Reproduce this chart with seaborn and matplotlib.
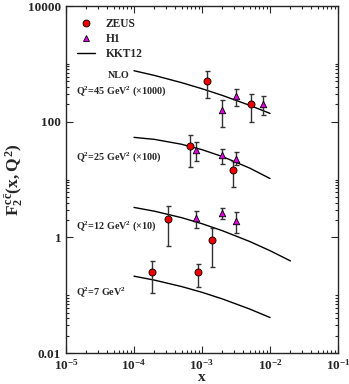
import numpy as np
import pandas as pd
import matplotlib
matplotlib.use("Agg")
import matplotlib.pyplot as plt
import seaborn as sns
from matplotlib.ticker import LogLocator, FixedLocator, NullFormatter, FuncFormatter
from matplotlib.lines import Line2D

# ---------------- data ----------------
zeus45_x = [1.18e-3, 5.3e-3]
zeus45_y = [504, 199]
zeus45_lo = [253, 100]
zeus45_hi = [760, 296]

h1_45_x = [2.0e-3, 3.2e-3, 8.0e-3]
h1_45_y = [159, 281, 201]
h1_45_lo = [81, 188, 128]
h1_45_hi = [237, 366, 277]

zeus25_x = [6.6e-4, 2.9e-3]
zeus25_y = [37.8, 14.4]
zeus25_lo = [16.6, 7.5]
zeus25_hi = [58, 21.1]

h1_25_x = [8.05e-4, 2.0e-3, 3.2e-3]
h1_25_y = [32.7, 26.1, 22.8]
h1_25_lo = [20.6, 18.5, 17.9]
h1_25_hi = [44.9, 33.2, 30.1]

zeus12_x = [3.16e-4, 1.38e-3]
zeus12_y = [2.09, 0.895]
zeus12_lo = [0.72, 0.31]
zeus12_hi = [3.47, 1.46]

h1_12_x = [8.05e-4, 2.0e-3, 3.2e-3]
h1_12_y = [2.15, 2.65, 1.91]
h1_12_lo = [1.46, 2.07, 1.17]
h1_12_hi = [2.8, 3.2, 2.7]

zeus7_x = [1.84e-4, 8.7e-4]
zeus7_y = [0.247, 0.247]
zeus7_lo = [0.111, 0.136]
zeus7_hi = [0.387, 0.352]

# KKT12 NLO curves
kkt_x = [1e-4, 2e-4, 5e-4, 1e-3, 2e-3, 5e-3, 1e-2]
kkt45_y = [760, 630, 473, 371, 284, 192, 139]
kkt25_y = [53.5, 49.4, 40.7, 32.8, 24.9, 15.8, 10.4]
kkt12_x = [1e-4, 2e-4, 5e-4, 1e-3, 2e-3, 5e-3, 1e-2, 2e-2]
kkt12_y = [3.29, 2.83, 2.19, 1.72, 1.30, 0.85, 0.588, 0.391]
kkt7_y = [0.213, 0.182, 0.141, 0.112, 0.086, 0.0577, 0.0411]

group_labels = ["Q$^2$=45 GeV$^2$ (\u00d71000)", "Q$^2$=25 GeV$^2$ (\u00d7100)",
                "Q$^2$=12 GeV$^2$ (\u00d710)", "Q$^2$=7 GeV$^2$"]

# ---------------- style ----------------
sns.set_style("ticks")
plt.rcParams['font.family'] = ['Liberation Serif', 'DejaVu Serif']
plt.rcParams['font.weight'] = 'bold'
plt.rcParams['mathtext.fontset'] = 'custom'
plt.rcParams['mathtext.rm'] = 'Liberation Serif:bold'
plt.rcParams['mathtext.it'] = 'Liberation Serif:bold'
plt.rcParams['mathtext.bf'] = 'Liberation Serif:bold'
plt.rcParams['axes.linewidth'] = 1.0

fig = plt.figure(figsize=(3.49, 3.84), dpi=100)
ax = fig.add_axes([66/349, 1-353/384, (338-66)/349, (353-6)/384])

curves = pd.concat([
    pd.DataFrame({"x": kkt_x, "y": kkt45_y, "g": "45"}),
    pd.DataFrame({"x": kkt_x, "y": kkt25_y, "g": "25"}),
    pd.DataFrame({"x": kkt12_x, "y": kkt12_y, "g": "12"}),
    pd.DataFrame({"x": kkt_x, "y": kkt7_y, "g": "7"}),
])
sns.lineplot(data=curves, x="x", y="y", units="g", estimator=None, color="black",
             lw=1.0, ax=ax, sort=True)

def draw_points(xs, ys, lo, hi, marker, color, ms):
    xs = np.array(xs); ys = np.array(ys)
    yerr = [ys - np.array(lo), np.array(hi) - ys]
    ax.errorbar(xs, ys, yerr=yerr, fmt='none', ecolor='#333333', elinewidth=1.0,
                capsize=1.8, capthick=1.0, zorder=3)
    sns.scatterplot(x=xs, y=ys, marker=marker, color=color, edgecolor='black',
                    linewidth=0.6, s=ms, ax=ax, zorder=4)

ZC = '#ee0000'
HC = '#e000e0'
for xs, ys, lo, hi in [(zeus45_x, zeus45_y, zeus45_lo, zeus45_hi),
                       (zeus25_x, zeus25_y, zeus25_lo, zeus25_hi),
                       (zeus12_x, zeus12_y, zeus12_lo, zeus12_hi),
                       (zeus7_x, zeus7_y, zeus7_lo, zeus7_hi)]:
    draw_points(xs, ys, lo, hi, 'o', ZC, 26)
for xs, ys, lo, hi in [(h1_45_x, h1_45_y, h1_45_lo, h1_45_hi),
                       (h1_25_x, h1_25_y, h1_25_lo, h1_25_hi),
                       (h1_12_x, h1_12_y, h1_12_lo, h1_12_hi)]:
    draw_points(xs, ys, lo, hi, '^', HC, 22)

ax.set_xscale('log')
ax.set_yscale('log')
ax.set_xlim(1e-5, 1e-1)
ax.set_ylim(1e-2, 1e4)

ax.xaxis.set_major_locator(LogLocator(base=10, numticks=10))
ax.xaxis.set_minor_locator(LogLocator(base=10, subs=np.arange(2, 10), numticks=20))
ax.xaxis.set_minor_formatter(NullFormatter())
ax.xaxis.set_major_formatter(FuncFormatter(lambda v, p: r"$10^{%d}$" % int(round(np.log10(v)))))
ymaj = [1e-2, 1, 1e2, 1e4]
ax.yaxis.set_major_locator(FixedLocator(ymaj))
ymin = [m * 10.0**k for k in (-2, 0, 2) for m in range(2, 11)]
ax.yaxis.set_minor_locator(FixedLocator(ymin))
ax.yaxis.set_minor_formatter(NullFormatter())
ax.yaxis.set_major_formatter(FuncFormatter(lambda v, p: {1e-2: "0.01", 1: "1", 1e2: "100", 1e4: "10000"}.get(v, "")))
ax.tick_params(which='both', direction='in', top=True, right=True, labelsize=9.5, width=0.8)
ax.tick_params(which='major', length=5)
ax.tick_params(which='minor', length=2.5)
for lab in ax.get_xticklabels() + ax.get_yticklabels():
    lab.set_fontweight('bold')

ax.set_xlabel("x", fontsize=11, fontweight='bold', labelpad=-1)
ax.set_ylabel(r"$F_2^{c\bar{c}}(x,Q^2)$", fontsize=12.5, labelpad=2)

ax.text(0.154, 0.801, "NLO", transform=ax.transAxes, fontsize=7.3, va='center', fontweight='bold')
ypos = [0.755, 0.565, 0.366, 0.176]
for lab, yy in zip(group_labels, ypos):
    ax.text(0.037, yy, lab, transform=ax.transAxes, fontsize=7.3, va='center', fontweight='bold')

handles = [Line2D([], [], ls='none', marker='o', mfc=ZC, mec='black', mew=0.6, ms=5),
           Line2D([], [], ls='none', marker='^', mfc=HC, mec='black', mew=0.6, ms=4.5),
           Line2D([], [], color='black', lw=1.0)]
ax.legend(handles, ["ZEUS", "H1", "KKT12"], loc='upper left', bbox_to_anchor=(0.015, 0.985),
          frameon=False, handlelength=1.6, labelspacing=0.25, handletextpad=0.9,
          borderaxespad=0.2, prop={'weight': 'bold', 'size': 8.3})

fig.savefig("out.png", dpi=100)
